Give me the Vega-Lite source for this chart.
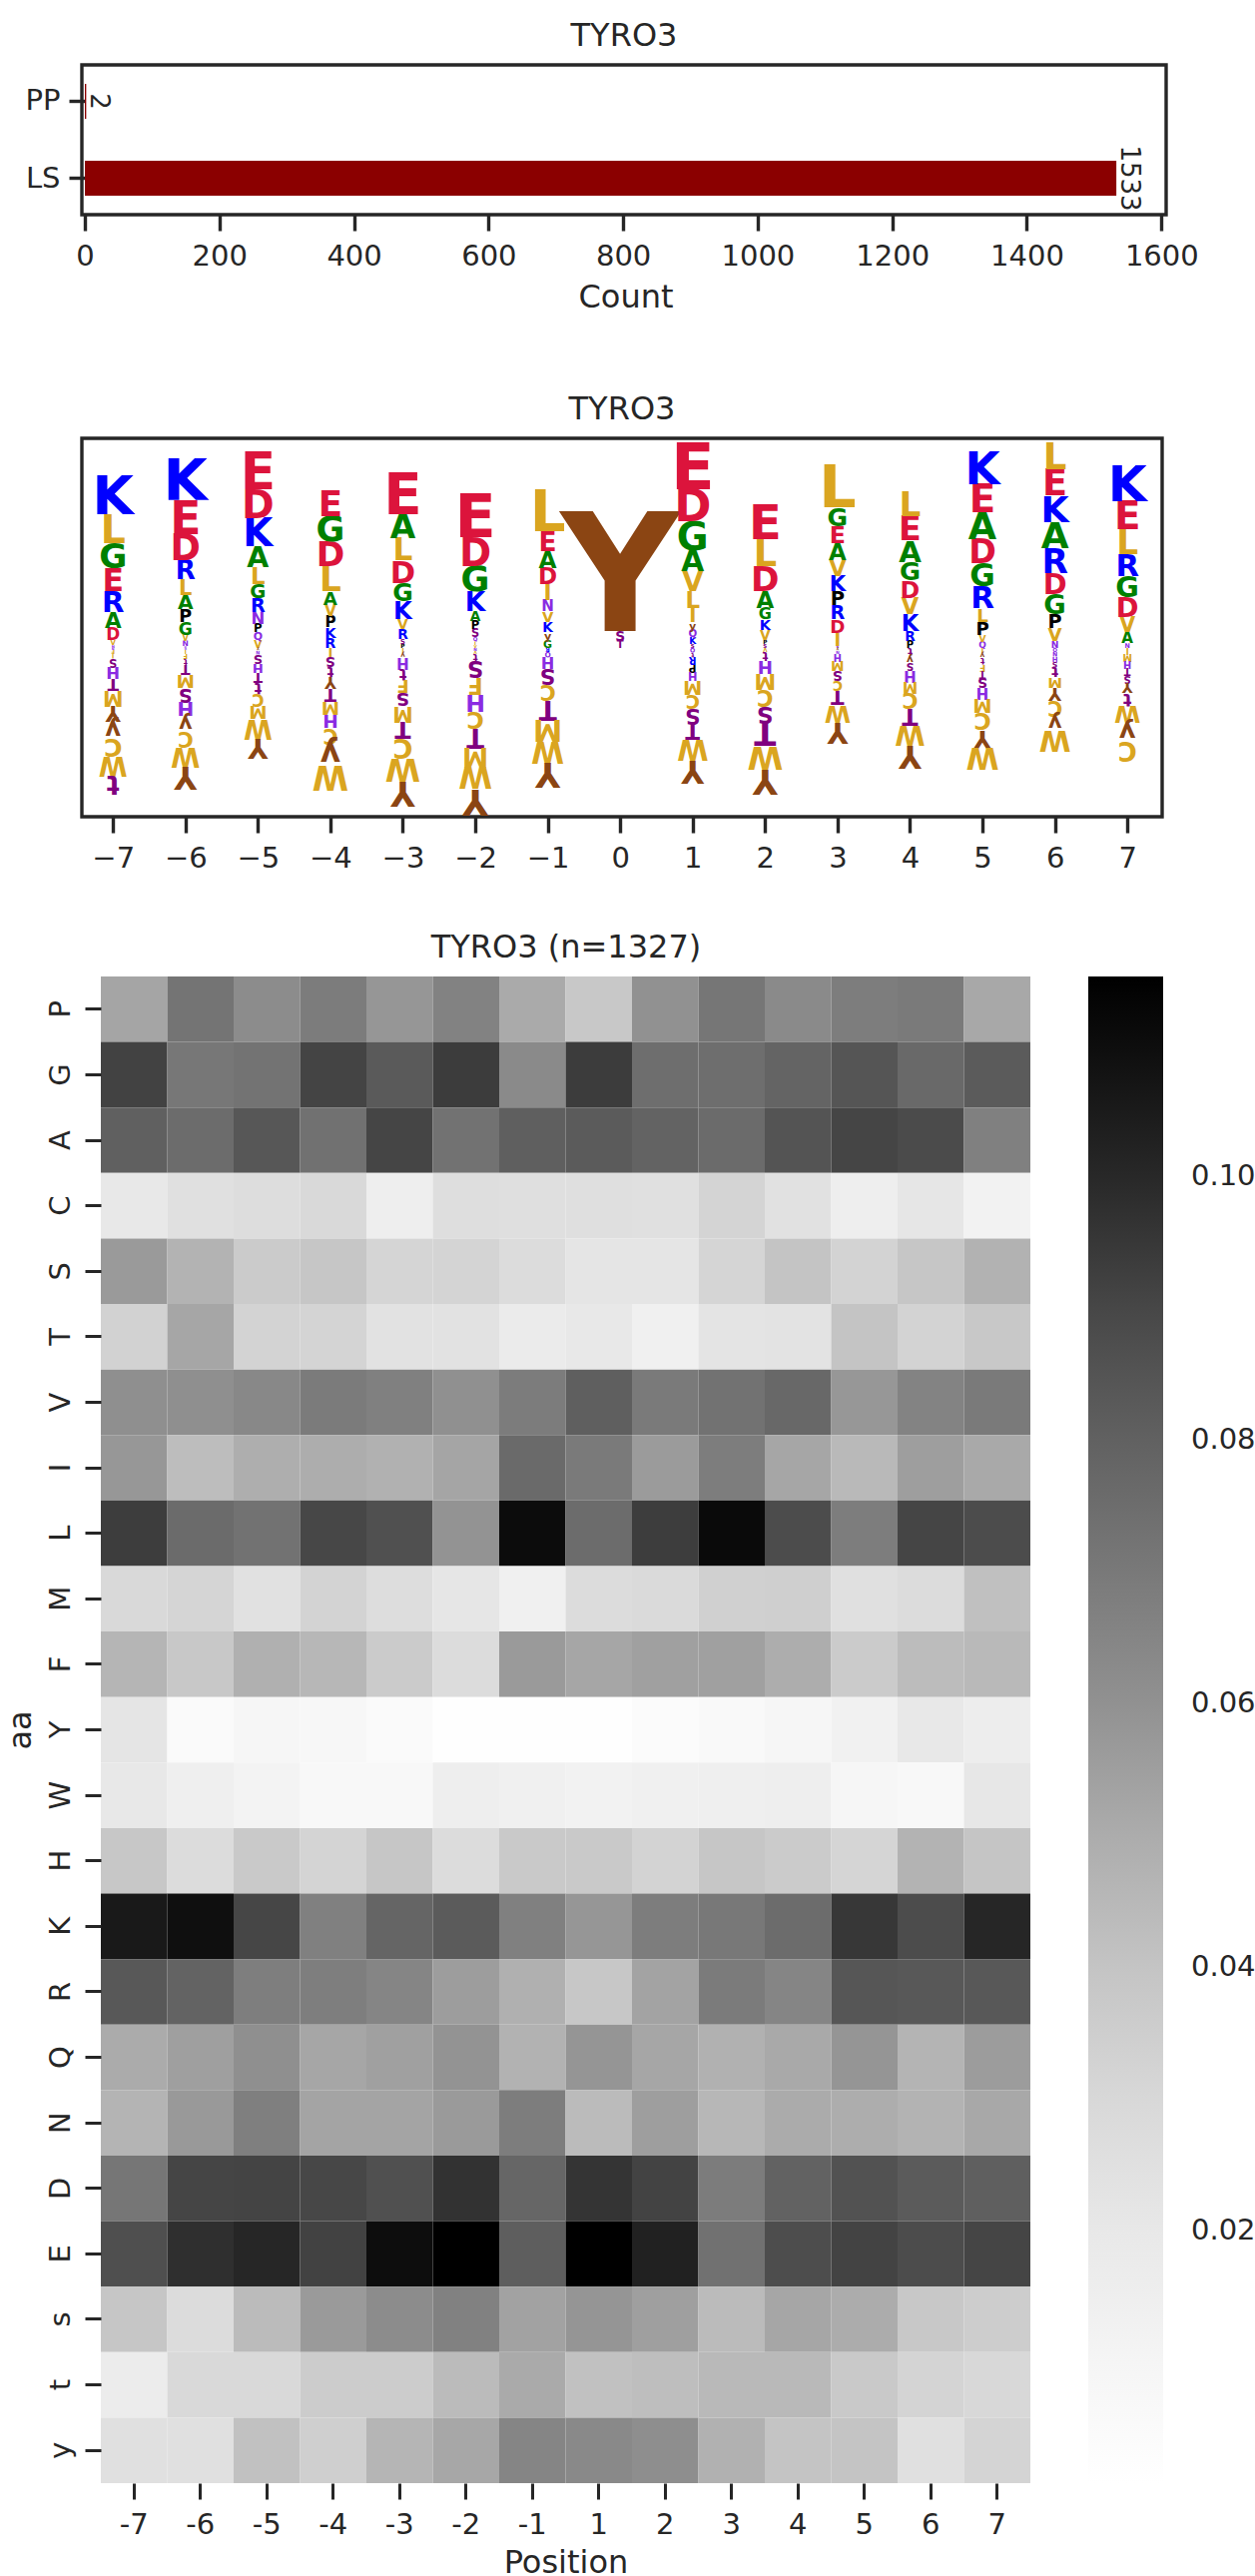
{
  "$schema": "https://vega.github.io/schema/vega-lite/v6.json",
  "padding": {"left": 3, "top": 18, "right": 0, "bottom": 8},
  "spacing": 77,
  "datasets": {
    "counts": [
      {"group": "PP", "count": 2},
      {"group": "LS", "count": 1533}
    ],
    "above": [
      {"pos": -7, "aa": "N", "h": 0.027}, {"pos": -7, "aa": "V", "h": 0.05}, {"pos": -7, "aa": "D", "h": 0.123}, {"pos": -7, "aa": "A", "h": 0.157}, {"pos": -7, "aa": "R", "h": 0.213}, {"pos": -7, "aa": "E", "h": 0.23}, {"pos": -7, "aa": "G", "h": 0.25}, {"pos": -7, "aa": "L", "h": 0.287}, {"pos": -7, "aa": "K", "h": 0.39},
      {"pos": -6, "aa": "Q", "h": 0.02}, {"pos": -6, "aa": "N", "h": 0.055}, {"pos": -6, "aa": "V", "h": 0.06}, {"pos": -6, "aa": "G", "h": 0.125}, {"pos": -6, "aa": "P", "h": 0.128}, {"pos": -6, "aa": "A", "h": 0.147}, {"pos": -6, "aa": "L", "h": 0.153}, {"pos": -6, "aa": "R", "h": 0.19}, {"pos": -6, "aa": "D", "h": 0.267}, {"pos": -6, "aa": "E", "h": 0.333}, {"pos": -6, "aa": "K", "h": 0.417},
      {"pos": -5, "aa": "V", "h": 0.077}, {"pos": -5, "aa": "Q", "h": 0.08}, {"pos": -5, "aa": "P", "h": 0.085}, {"pos": -5, "aa": "N", "h": 0.12}, {"pos": -5, "aa": "R", "h": 0.14}, {"pos": -5, "aa": "G", "h": 0.143}, {"pos": -5, "aa": "L", "h": 0.167}, {"pos": -5, "aa": "A", "h": 0.207}, {"pos": -5, "aa": "K", "h": 0.283}, {"pos": -5, "aa": "D", "h": 0.287}, {"pos": -5, "aa": "E", "h": 0.377},
      {"pos": -4, "aa": "R", "h": 0.105}, {"pos": -4, "aa": "K", "h": 0.107}, {"pos": -4, "aa": "P", "h": 0.11}, {"pos": -4, "aa": "V", "h": 0.112}, {"pos": -4, "aa": "A", "h": 0.133}, {"pos": -4, "aa": "L", "h": 0.25}, {"pos": -4, "aa": "D", "h": 0.251}, {"pos": -4, "aa": "G", "h": 0.256}, {"pos": -4, "aa": "E", "h": 0.26},
      {"pos": -3, "aa": "P", "h": 0.043}, {"pos": -3, "aa": "S", "h": 0.05}, {"pos": -3, "aa": "R", "h": 0.1}, {"pos": -3, "aa": "V", "h": 0.101}, {"pos": -3, "aa": "K", "h": 0.177}, {"pos": -3, "aa": "G", "h": 0.183}, {"pos": -3, "aa": "D", "h": 0.223}, {"pos": -3, "aa": "L", "h": 0.227}, {"pos": -3, "aa": "A", "h": 0.24}, {"pos": -3, "aa": "E", "h": 0.41},
      {"pos": -2, "aa": "V", "h": 0.03}, {"pos": -2, "aa": "I", "h": 0.037}, {"pos": -2, "aa": "Q", "h": 0.04}, {"pos": -2, "aa": "S", "h": 0.083}, {"pos": -2, "aa": "P", "h": 0.084}, {"pos": -2, "aa": "A", "h": 0.1}, {"pos": -2, "aa": "K", "h": 0.193}, {"pos": -2, "aa": "G", "h": 0.257}, {"pos": -2, "aa": "D", "h": 0.283}, {"pos": -2, "aa": "E", "h": 0.44},
      {"pos": -1, "aa": "G", "h": 0.08}, {"pos": -1, "aa": "y", "h": 0.082}, {"pos": -1, "aa": "K", "h": 0.1}, {"pos": -1, "aa": "V", "h": 0.107}, {"pos": -1, "aa": "N", "h": 0.11}, {"pos": -1, "aa": "I", "h": 0.157}, {"pos": -1, "aa": "D", "h": 0.168}, {"pos": -1, "aa": "A", "h": 0.17}, {"pos": -1, "aa": "E", "h": 0.193}, {"pos": -1, "aa": "L", "h": 0.41},
      {"pos": 0, "aa": "T", "h": 0.073}, {"pos": 0, "aa": "S", "h": 0.1}, {"pos": 0, "aa": "Y", "h": 1.9},
      {"pos": 1, "aa": "S", "h": 0.04}, {"pos": 1, "aa": "K", "h": 0.067}, {"pos": 1, "aa": "Q", "h": 0.075}, {"pos": 1, "aa": "y", "h": 0.077}, {"pos": 1, "aa": "I", "h": 0.14}, {"pos": 1, "aa": "L", "h": 0.167}, {"pos": 1, "aa": "V", "h": 0.2}, {"pos": 1, "aa": "A", "h": 0.217}, {"pos": 1, "aa": "G", "h": 0.283}, {"pos": 1, "aa": "D", "h": 0.327}, {"pos": 1, "aa": "E", "h": 0.467},
      {"pos": 2, "aa": "S", "h": 0.04}, {"pos": 2, "aa": "P", "h": 0.042}, {"pos": 2, "aa": "V", "h": 0.1}, {"pos": 2, "aa": "K", "h": 0.105}, {"pos": 2, "aa": "G", "h": 0.117}, {"pos": 2, "aa": "A", "h": 0.167}, {"pos": 2, "aa": "D", "h": 0.25}, {"pos": 2, "aa": "L", "h": 0.267}, {"pos": 2, "aa": "E", "h": 0.35},
      {"pos": 3, "aa": "N", "h": 0.023}, {"pos": 3, "aa": "I", "h": 0.13}, {"pos": 3, "aa": "D", "h": 0.133}, {"pos": 3, "aa": "R", "h": 0.14}, {"pos": 3, "aa": "P", "h": 0.142}, {"pos": 3, "aa": "K", "h": 0.155}, {"pos": 3, "aa": "V", "h": 0.16}, {"pos": 3, "aa": "A", "h": 0.167}, {"pos": 3, "aa": "E", "h": 0.173}, {"pos": 3, "aa": "G", "h": 0.183}, {"pos": 3, "aa": "L", "h": 0.427},
      {"pos": 4, "aa": "P", "h": 0.073}, {"pos": 4, "aa": "R", "h": 0.1}, {"pos": 4, "aa": "K", "h": 0.165}, {"pos": 4, "aa": "V", "h": 0.167}, {"pos": 4, "aa": "D", "h": 0.173}, {"pos": 4, "aa": "G", "h": 0.187}, {"pos": 4, "aa": "A", "h": 0.213}, {"pos": 4, "aa": "E", "h": 0.243}, {"pos": 4, "aa": "L", "h": 0.25},
      {"pos": 5, "aa": "Q", "h": 0.065}, {"pos": 5, "aa": "V", "h": 0.067}, {"pos": 5, "aa": "P", "h": 0.132}, {"pos": 5, "aa": "L", "h": 0.133}, {"pos": 5, "aa": "R", "h": 0.225}, {"pos": 5, "aa": "G", "h": 0.227}, {"pos": 5, "aa": "D", "h": 0.243}, {"pos": 5, "aa": "A", "h": 0.267}, {"pos": 5, "aa": "E", "h": 0.283}, {"pos": 5, "aa": "K", "h": 0.33},
      {"pos": 6, "aa": "N", "h": 0.067}, {"pos": 6, "aa": "V", "h": 0.133}, {"pos": 6, "aa": "P", "h": 0.14}, {"pos": 6, "aa": "G", "h": 0.2}, {"pos": 6, "aa": "D", "h": 0.21}, {"pos": 6, "aa": "R", "h": 0.25}, {"pos": 6, "aa": "A", "h": 0.262}, {"pos": 6, "aa": "K", "h": 0.265}, {"pos": 6, "aa": "E", "h": 0.268}, {"pos": 6, "aa": "L", "h": 0.27},
      {"pos": 7, "aa": "N", "h": 0.047}, {"pos": 7, "aa": "A", "h": 0.11}, {"pos": 7, "aa": "V", "h": 0.15}, {"pos": 7, "aa": "D", "h": 0.2}, {"pos": 7, "aa": "G", "h": 0.21}, {"pos": 7, "aa": "R", "h": 0.223}, {"pos": 7, "aa": "L", "h": 0.25}, {"pos": 7, "aa": "E", "h": 0.283}, {"pos": 7, "aa": "K", "h": 0.367}
    ],
    "below": [
      {"pos": -7, "aa": "N", "h": 0.023}, {"pos": -7, "aa": "F", "h": 0.04}, {"pos": -7, "aa": "I", "h": 0.045}, {"pos": -7, "aa": "S", "h": 0.083}, {"pos": -7, "aa": "H", "h": 0.12}, {"pos": -7, "aa": "T", "h": 0.122}, {"pos": -7, "aa": "M", "h": 0.15}, {"pos": -7, "aa": "Y", "h": 0.152}, {"pos": -7, "aa": "y", "h": 0.175}, {"pos": -7, "aa": "C", "h": 0.183}, {"pos": -7, "aa": "W", "h": 0.19}, {"pos": -7, "aa": "t", "h": 0.195},
      {"pos": -6, "aa": "Q", "h": 0.02}, {"pos": -6, "aa": "I", "h": 0.04}, {"pos": -6, "aa": "F", "h": 0.05}, {"pos": -6, "aa": "t", "h": 0.06}, {"pos": -6, "aa": "T", "h": 0.1}, {"pos": -6, "aa": "M", "h": 0.135}, {"pos": -6, "aa": "S", "h": 0.138}, {"pos": -6, "aa": "H", "h": 0.147}, {"pos": -6, "aa": "y", "h": 0.15}, {"pos": -6, "aa": "C", "h": 0.157}, {"pos": -6, "aa": "W", "h": 0.193}, {"pos": -6, "aa": "Y", "h": 0.227},
      {"pos": -5, "aa": "y", "h": 0.03}, {"pos": -5, "aa": "N", "h": 0.035}, {"pos": -5, "aa": "S", "h": 0.093}, {"pos": -5, "aa": "H", "h": 0.095}, {"pos": -5, "aa": "T", "h": 0.098}, {"pos": -5, "aa": "t", "h": 0.11}, {"pos": -5, "aa": "C", "h": 0.123}, {"pos": -5, "aa": "M", "h": 0.133}, {"pos": -5, "aa": "W", "h": 0.19}, {"pos": -5, "aa": "Y", "h": 0.2},
      {"pos": -4, "aa": "I", "h": 0.09}, {"pos": -4, "aa": "S", "h": 0.1}, {"pos": -4, "aa": "t", "h": 0.101}, {"pos": -4, "aa": "Y", "h": 0.117}, {"pos": -4, "aa": "T", "h": 0.13}, {"pos": -4, "aa": "M", "h": 0.133}, {"pos": -4, "aa": "H", "h": 0.135}, {"pos": -4, "aa": "C", "h": 0.15}, {"pos": -4, "aa": "y", "h": 0.227}, {"pos": -4, "aa": "W", "h": 0.24},
      {"pos": -3, "aa": "I", "h": 0.047}, {"pos": -3, "aa": "y", "h": 0.05}, {"pos": -3, "aa": "H", "h": 0.11}, {"pos": -3, "aa": "t", "h": 0.112}, {"pos": -3, "aa": "F", "h": 0.133}, {"pos": -3, "aa": "S", "h": 0.134}, {"pos": -3, "aa": "M", "h": 0.15}, {"pos": -3, "aa": "T", "h": 0.173}, {"pos": -3, "aa": "C", "h": 0.2}, {"pos": -3, "aa": "W", "h": 0.233}, {"pos": -3, "aa": "Y", "h": 0.243},
      {"pos": -2, "aa": "N", "h": 0.03}, {"pos": -2, "aa": "V", "h": 0.031}, {"pos": -2, "aa": "t", "h": 0.073}, {"pos": -2, "aa": "S", "h": 0.165}, {"pos": -2, "aa": "F", "h": 0.166}, {"pos": -2, "aa": "H", "h": 0.172}, {"pos": -2, "aa": "C", "h": 0.173}, {"pos": -2, "aa": "T", "h": 0.19}, {"pos": -2, "aa": "M", "h": 0.193}, {"pos": -2, "aa": "W", "h": 0.223}, {"pos": -2, "aa": "Y", "h": 0.26},
      {"pos": -1, "aa": "R", "h": 0.04}, {"pos": -1, "aa": "Q", "h": 0.053}, {"pos": -1, "aa": "H", "h": 0.117}, {"pos": -1, "aa": "S", "h": 0.157}, {"pos": -1, "aa": "C", "h": 0.16}, {"pos": -1, "aa": "T", "h": 0.193}, {"pos": -1, "aa": "M", "h": 0.215}, {"pos": -1, "aa": "W", "h": 0.218}, {"pos": -1, "aa": "Y", "h": 0.25},
      {"pos": 1, "aa": "Q", "h": 0.045}, {"pos": 1, "aa": "t", "h": 0.047}, {"pos": 1, "aa": "R", "h": 0.073}, {"pos": 1, "aa": "P", "h": 0.077}, {"pos": 1, "aa": "H", "h": 0.083}, {"pos": 1, "aa": "M", "h": 0.14}, {"pos": 1, "aa": "C", "h": 0.142}, {"pos": 1, "aa": "S", "h": 0.155}, {"pos": 1, "aa": "T", "h": 0.157}, {"pos": 1, "aa": "W", "h": 0.207}, {"pos": 1, "aa": "Y", "h": 0.227},
      {"pos": 2, "aa": "V", "h": 0.04}, {"pos": 2, "aa": "t", "h": 0.087}, {"pos": 2, "aa": "H", "h": 0.133}, {"pos": 2, "aa": "M", "h": 0.16}, {"pos": 2, "aa": "C", "h": 0.165}, {"pos": 2, "aa": "S", "h": 0.168}, {"pos": 2, "aa": "T", "h": 0.235}, {"pos": 2, "aa": "W", "h": 0.236}, {"pos": 2, "aa": "Y", "h": 0.25},
      {"pos": 3, "aa": "y", "h": 0.03}, {"pos": 3, "aa": "N", "h": 0.031}, {"pos": 3, "aa": "H", "h": 0.073}, {"pos": 3, "aa": "M", "h": 0.098}, {"pos": 3, "aa": "S", "h": 0.1}, {"pos": 3, "aa": "C", "h": 0.101}, {"pos": 3, "aa": "T", "h": 0.143}, {"pos": 3, "aa": "W", "h": 0.173}, {"pos": 3, "aa": "Y", "h": 0.207},
      {"pos": 4, "aa": "t", "h": 0.075}, {"pos": 4, "aa": "y", "h": 0.076}, {"pos": 4, "aa": "S", "h": 0.077}, {"pos": 4, "aa": "H", "h": 0.11}, {"pos": 4, "aa": "M", "h": 0.113}, {"pos": 4, "aa": "C", "h": 0.16}, {"pos": 4, "aa": "T", "h": 0.173}, {"pos": 4, "aa": "W", "h": 0.2}, {"pos": 4, "aa": "Y", "h": 0.227},
      {"pos": 5, "aa": "I", "h": 0.05}, {"pos": 5, "aa": "y", "h": 0.052}, {"pos": 5, "aa": "t", "h": 0.065}, {"pos": 5, "aa": "F", "h": 0.067}, {"pos": 5, "aa": "T", "h": 0.07}, {"pos": 5, "aa": "S", "h": 0.1}, {"pos": 5, "aa": "H", "h": 0.11}, {"pos": 5, "aa": "M", "h": 0.14}, {"pos": 5, "aa": "C", "h": 0.173}, {"pos": 5, "aa": "Y", "h": 0.177}, {"pos": 5, "aa": "W", "h": 0.217},
      {"pos": 6, "aa": "Q", "h": 0.04}, {"pos": 6, "aa": "N", "h": 0.045}, {"pos": 6, "aa": "H", "h": 0.05}, {"pos": 6, "aa": "S", "h": 0.055}, {"pos": 6, "aa": "t", "h": 0.105}, {"pos": 6, "aa": "M", "h": 0.107}, {"pos": 6, "aa": "Y", "h": 0.13}, {"pos": 6, "aa": "C", "h": 0.15}, {"pos": 6, "aa": "y", "h": 0.152}, {"pos": 6, "aa": "W", "h": 0.21},
      {"pos": 7, "aa": "I", "h": 0.06}, {"pos": 7, "aa": "M", "h": 0.07}, {"pos": 7, "aa": "H", "h": 0.072}, {"pos": 7, "aa": "T", "h": 0.073}, {"pos": 7, "aa": "S", "h": 0.074}, {"pos": 7, "aa": "Y", "h": 0.107}, {"pos": 7, "aa": "t", "h": 0.127}, {"pos": 7, "aa": "W", "h": 0.173}, {"pos": 7, "aa": "y", "h": 0.187}, {"pos": 7, "aa": "C", "h": 0.19}
    ],
    "freq": [
      {"aa": "P", "pos": -7, "f": 0.0525}, {"aa": "P", "pos": -6, "f": 0.0719}, {"aa": "P", "pos": -5, "f": 0.0621}, {"aa": "P", "pos": -4, "f": 0.0686}, {"aa": "P", "pos": -3, "f": 0.058}, {"aa": "P", "pos": -2, "f": 0.0661}, {"aa": "P", "pos": -1, "f": 0.0507}, {"aa": "P", "pos": 1, "f": 0.0381}, {"aa": "P", "pos": 2, "f": 0.06}, {"aa": "P", "pos": 3, "f": 0.0711}, {"aa": "P", "pos": 4, "f": 0.063}, {"aa": "P", "pos": 5, "f": 0.0682}, {"aa": "P", "pos": 6, "f": 0.0694}, {"aa": "P", "pos": 7, "f": 0.0514},
      {"aa": "G", "pos": -7, "f": 0.0917}, {"aa": "G", "pos": -6, "f": 0.0706}, {"aa": "G", "pos": -5, "f": 0.0723}, {"aa": "G", "pos": -4, "f": 0.0911}, {"aa": "G", "pos": -3, "f": 0.0832}, {"aa": "G", "pos": -2, "f": 0.0936}, {"aa": "G", "pos": -1, "f": 0.063}, {"aa": "G", "pos": 1, "f": 0.0936}, {"aa": "G", "pos": 2, "f": 0.0745}, {"aa": "G", "pos": 3, "f": 0.0745}, {"aa": "G", "pos": 4, "f": 0.0788}, {"aa": "G", "pos": 5, "f": 0.0853}, {"aa": "G", "pos": 6, "f": 0.0766}, {"aa": "G", "pos": 7, "f": 0.0825},
      {"aa": "A", "pos": -7, "f": 0.0805}, {"aa": "A", "pos": -6, "f": 0.0753}, {"aa": "A", "pos": -5, "f": 0.0845}, {"aa": "A", "pos": -4, "f": 0.0732}, {"aa": "A", "pos": -3, "f": 0.0907}, {"aa": "A", "pos": -2, "f": 0.0727}, {"aa": "A", "pos": -1, "f": 0.081}, {"aa": "A", "pos": 1, "f": 0.0828}, {"aa": "A", "pos": 2, "f": 0.0792}, {"aa": "A", "pos": 3, "f": 0.0757}, {"aa": "A", "pos": 4, "f": 0.0858}, {"aa": "A", "pos": 5, "f": 0.0907}, {"aa": "A", "pos": 6, "f": 0.0888}, {"aa": "A", "pos": 7, "f": 0.0669},
      {"aa": "C", "pos": -7, "f": 0.0201}, {"aa": "C", "pos": -6, "f": 0.0252}, {"aa": "C", "pos": -5, "f": 0.027}, {"aa": "C", "pos": -4, "f": 0.0294}, {"aa": "C", "pos": -3, "f": 0.0163}, {"aa": "C", "pos": -2, "f": 0.0264}, {"aa": "C", "pos": -1, "f": 0.0258}, {"aa": "C", "pos": 1, "f": 0.0258}, {"aa": "C", "pos": 2, "f": 0.0252}, {"aa": "C", "pos": 3, "f": 0.0319}, {"aa": "C", "pos": 4, "f": 0.0245}, {"aa": "C", "pos": 5, "f": 0.0163}, {"aa": "C", "pos": 6, "f": 0.0213}, {"aa": "C", "pos": 7, "f": 0.013},
      {"aa": "S", "pos": -7, "f": 0.0564}, {"aa": "S", "pos": -6, "f": 0.0474}, {"aa": "S", "pos": -5, "f": 0.0366}, {"aa": "S", "pos": -4, "f": 0.0393}, {"aa": "S", "pos": -3, "f": 0.0312}, {"aa": "S", "pos": -2, "f": 0.0317}, {"aa": "S", "pos": -1, "f": 0.0276}, {"aa": "S", "pos": 1, "f": 0.0219}, {"aa": "S", "pos": 2, "f": 0.0219}, {"aa": "S", "pos": 3, "f": 0.0312}, {"aa": "S", "pos": 4, "f": 0.0403}, {"aa": "S", "pos": 5, "f": 0.0326}, {"aa": "S", "pos": 6, "f": 0.0389}, {"aa": "S", "pos": 7, "f": 0.0477},
      {"aa": "T", "pos": -7, "f": 0.033}, {"aa": "T", "pos": -6, "f": 0.0521}, {"aa": "T", "pos": -5, "f": 0.0326}, {"aa": "T", "pos": -4, "f": 0.0317}, {"aa": "T", "pos": -3, "f": 0.0239}, {"aa": "T", "pos": -2, "f": 0.0239}, {"aa": "T", "pos": -1, "f": 0.0182}, {"aa": "T", "pos": 1, "f": 0.0201}, {"aa": "T", "pos": 2, "f": 0.0151}, {"aa": "T", "pos": 3, "f": 0.0226}, {"aa": "T", "pos": 4, "f": 0.0232}, {"aa": "T", "pos": 5, "f": 0.0403}, {"aa": "T", "pos": 6, "f": 0.0326}, {"aa": "T", "pos": 7, "f": 0.0381},
      {"aa": "V", "pos": -7, "f": 0.0609}, {"aa": "V", "pos": -6, "f": 0.0609}, {"aa": "V", "pos": -5, "f": 0.0637}, {"aa": "V", "pos": -4, "f": 0.069}, {"aa": "V", "pos": -3, "f": 0.0669}, {"aa": "V", "pos": -2, "f": 0.0605}, {"aa": "V", "pos": -1, "f": 0.0686}, {"aa": "V", "pos": 1, "f": 0.081}, {"aa": "V", "pos": 2, "f": 0.0694}, {"aa": "V", "pos": 3, "f": 0.0727}, {"aa": "V", "pos": 4, "f": 0.077}, {"aa": "V", "pos": 5, "f": 0.0576}, {"aa": "V", "pos": 6, "f": 0.0657}, {"aa": "V", "pos": 7, "f": 0.0694},
      {"aa": "I", "pos": -7, "f": 0.0576}, {"aa": "I", "pos": -6, "f": 0.0437}, {"aa": "I", "pos": -5, "f": 0.0492}, {"aa": "I", "pos": -4, "f": 0.0496}, {"aa": "I", "pos": -3, "f": 0.0481}, {"aa": "I", "pos": -2, "f": 0.0525}, {"aa": "I", "pos": -1, "f": 0.0762}, {"aa": "I", "pos": 1, "f": 0.0694}, {"aa": "I", "pos": 2, "f": 0.0561}, {"aa": "I", "pos": 3, "f": 0.0682}, {"aa": "I", "pos": 4, "f": 0.0521}, {"aa": "I", "pos": 5, "f": 0.045}, {"aa": "I", "pos": 6, "f": 0.055}, {"aa": "I", "pos": 7, "f": 0.051},
      {"aa": "L", "pos": -7, "f": 0.0933}, {"aa": "L", "pos": -6, "f": 0.0757}, {"aa": "L", "pos": -5, "f": 0.0727}, {"aa": "L", "pos": -4, "f": 0.0901}, {"aa": "L", "pos": -3, "f": 0.0871}, {"aa": "L", "pos": -2, "f": 0.0592}, {"aa": "L", "pos": -1, "f": 0.1105}, {"aa": "L", "pos": 1, "f": 0.0753}, {"aa": "L", "pos": 2, "f": 0.0933}, {"aa": "L", "pos": 3, "f": 0.1113}, {"aa": "L", "pos": 4, "f": 0.0886}, {"aa": "L", "pos": 5, "f": 0.0682}, {"aa": "L", "pos": 6, "f": 0.0907}, {"aa": "L", "pos": 7, "f": 0.0886},
      {"aa": "M", "pos": -7, "f": 0.0294}, {"aa": "M", "pos": -6, "f": 0.0312}, {"aa": "M", "pos": -5, "f": 0.0245}, {"aa": "M", "pos": -4, "f": 0.0326}, {"aa": "M", "pos": -3, "f": 0.027}, {"aa": "M", "pos": -2, "f": 0.0213}, {"aa": "M", "pos": -1, "f": 0.0151}, {"aa": "M", "pos": 1, "f": 0.0276}, {"aa": "M", "pos": 2, "f": 0.0288}, {"aa": "M", "pos": 3, "f": 0.034}, {"aa": "M", "pos": 4, "f": 0.0345}, {"aa": "M", "pos": 5, "f": 0.0252}, {"aa": "M", "pos": 6, "f": 0.0276}, {"aa": "M", "pos": 7, "f": 0.0423},
      {"aa": "F", "pos": -7, "f": 0.0467}, {"aa": "F", "pos": -6, "f": 0.0381}, {"aa": "F", "pos": -5, "f": 0.0485}, {"aa": "F", "pos": -4, "f": 0.0459}, {"aa": "F", "pos": -3, "f": 0.0366}, {"aa": "F", "pos": -2, "f": 0.0276}, {"aa": "F", "pos": -1, "f": 0.0564}, {"aa": "F", "pos": 1, "f": 0.0521}, {"aa": "F", "pos": 2, "f": 0.0543}, {"aa": "F", "pos": 3, "f": 0.0543}, {"aa": "F", "pos": 4, "f": 0.0496}, {"aa": "F", "pos": 5, "f": 0.0366}, {"aa": "F", "pos": 6, "f": 0.0441}, {"aa": "F", "pos": 7, "f": 0.045},
      {"aa": "Y", "pos": -7, "f": 0.0219}, {"aa": "Y", "pos": -6, "f": 0.0056}, {"aa": "Y", "pos": -5, "f": 0.0094}, {"aa": "Y", "pos": -4, "f": 0.0084}, {"aa": "Y", "pos": -3, "f": 0.0056}, {"aa": "Y", "pos": -2, "f": 0.0018}, {"aa": "Y", "pos": -1, "f": 0.0018}, {"aa": "Y", "pos": 1, "f": 0.0018}, {"aa": "Y", "pos": 2, "f": 0.0046}, {"aa": "Y", "pos": 3, "f": 0.0065}, {"aa": "Y", "pos": 4, "f": 0.0094}, {"aa": "Y", "pos": 5, "f": 0.0141}, {"aa": "Y", "pos": 6, "f": 0.0201}, {"aa": "Y", "pos": 7, "f": 0.017},
      {"aa": "W", "pos": -7, "f": 0.0201}, {"aa": "W", "pos": -6, "f": 0.0157}, {"aa": "W", "pos": -5, "f": 0.0122}, {"aa": "W", "pos": -4, "f": 0.0075}, {"aa": "W", "pos": -3, "f": 0.0075}, {"aa": "W", "pos": -2, "f": 0.0163}, {"aa": "W", "pos": -1, "f": 0.0151}, {"aa": "W", "pos": 1, "f": 0.013}, {"aa": "W", "pos": 2, "f": 0.0151}, {"aa": "W", "pos": 3, "f": 0.0157}, {"aa": "W", "pos": 4, "f": 0.0163}, {"aa": "W", "pos": 5, "f": 0.0094}, {"aa": "W", "pos": 6, "f": 0.0075}, {"aa": "W", "pos": 7, "f": 0.0207},
      {"aa": "H", "pos": -7, "f": 0.0385}, {"aa": "H", "pos": -6, "f": 0.0276}, {"aa": "H", "pos": -5, "f": 0.0376}, {"aa": "H", "pos": -4, "f": 0.0317}, {"aa": "H", "pos": -3, "f": 0.0389}, {"aa": "H", "pos": -2, "f": 0.0276}, {"aa": "H", "pos": -1, "f": 0.0376}, {"aa": "H", "pos": 1, "f": 0.0376}, {"aa": "H", "pos": 2, "f": 0.0326}, {"aa": "H", "pos": 3, "f": 0.0389}, {"aa": "H", "pos": 4, "f": 0.0366}, {"aa": "H", "pos": 5, "f": 0.0312}, {"aa": "H", "pos": 6, "f": 0.0474}, {"aa": "H", "pos": 7, "f": 0.0398},
      {"aa": "K", "pos": -7, "f": 0.1054}, {"aa": "K", "pos": -6, "f": 0.1093}, {"aa": "K", "pos": -5, "f": 0.0904}, {"aa": "K", "pos": -4, "f": 0.0669}, {"aa": "K", "pos": -3, "f": 0.0784}, {"aa": "K", "pos": -2, "f": 0.0828}, {"aa": "K", "pos": -1, "f": 0.0669}, {"aa": "K", "pos": 1, "f": 0.058}, {"aa": "K", "pos": 2, "f": 0.0682}, {"aa": "K", "pos": 3, "f": 0.0702}, {"aa": "K", "pos": 4, "f": 0.0753}, {"aa": "K", "pos": 5, "f": 0.0952}, {"aa": "K", "pos": 6, "f": 0.0886}, {"aa": "K", "pos": 7, "f": 0.1006},
      {"aa": "R", "pos": -7, "f": 0.0841}, {"aa": "R", "pos": -6, "f": 0.0792}, {"aa": "R", "pos": -5, "f": 0.0678}, {"aa": "R", "pos": -4, "f": 0.0678}, {"aa": "R", "pos": -3, "f": 0.0649}, {"aa": "R", "pos": -2, "f": 0.0554}, {"aa": "R", "pos": -1, "f": 0.0485}, {"aa": "R", "pos": 1, "f": 0.0385}, {"aa": "R", "pos": 2, "f": 0.0532}, {"aa": "R", "pos": 3, "f": 0.069}, {"aa": "R", "pos": 4, "f": 0.0649}, {"aa": "R", "pos": 5, "f": 0.085}, {"aa": "R", "pos": 6, "f": 0.0841}, {"aa": "R", "pos": 7, "f": 0.0841},
      {"aa": "Q", "pos": -7, "f": 0.0503}, {"aa": "Q", "pos": -6, "f": 0.0547}, {"aa": "Q", "pos": -5, "f": 0.0609}, {"aa": "Q", "pos": -4, "f": 0.0521}, {"aa": "Q", "pos": -3, "f": 0.0543}, {"aa": "Q", "pos": -2, "f": 0.0592}, {"aa": "Q", "pos": -1, "f": 0.0477}, {"aa": "Q", "pos": 1, "f": 0.0584}, {"aa": "Q", "pos": 2, "f": 0.0521}, {"aa": "Q", "pos": 3, "f": 0.0481}, {"aa": "Q", "pos": 4, "f": 0.051}, {"aa": "Q", "pos": 5, "f": 0.0584}, {"aa": "Q", "pos": 6, "f": 0.047}, {"aa": "Q", "pos": 7, "f": 0.0558},
      {"aa": "N", "pos": -7, "f": 0.047}, {"aa": "N", "pos": -6, "f": 0.0568}, {"aa": "N", "pos": -5, "f": 0.0673}, {"aa": "N", "pos": -4, "f": 0.0528}, {"aa": "N", "pos": -3, "f": 0.0528}, {"aa": "N", "pos": -2, "f": 0.0564}, {"aa": "N", "pos": -1, "f": 0.0682}, {"aa": "N", "pos": 1, "f": 0.0446}, {"aa": "N", "pos": 2, "f": 0.055}, {"aa": "N", "pos": 3, "f": 0.0459}, {"aa": "N", "pos": 4, "f": 0.0503}, {"aa": "N", "pos": 5, "f": 0.0496}, {"aa": "N", "pos": 6, "f": 0.0474}, {"aa": "N", "pos": 7, "f": 0.0514},
      {"aa": "D", "pos": -7, "f": 0.0711}, {"aa": "D", "pos": -6, "f": 0.0907}, {"aa": "D", "pos": -5, "f": 0.0911}, {"aa": "D", "pos": -4, "f": 0.0901}, {"aa": "D", "pos": -3, "f": 0.0871}, {"aa": "D", "pos": -2, "f": 0.0968}, {"aa": "D", "pos": -1, "f": 0.0779}, {"aa": "D", "pos": 1, "f": 0.0962}, {"aa": "D", "pos": 2, "f": 0.0914}, {"aa": "D", "pos": 3, "f": 0.0686}, {"aa": "D", "pos": 4, "f": 0.0797}, {"aa": "D", "pos": 5, "f": 0.0866}, {"aa": "D", "pos": 6, "f": 0.0825}, {"aa": "D", "pos": 7, "f": 0.081},
      {"aa": "E", "pos": -7, "f": 0.0874}, {"aa": "E", "pos": -6, "f": 0.0977}, {"aa": "E", "pos": -5, "f": 0.1006}, {"aa": "E", "pos": -4, "f": 0.0917}, {"aa": "E", "pos": -3, "f": 0.1101}, {"aa": "E", "pos": -2, "f": 0.1152}, {"aa": "E", "pos": -1, "f": 0.0815}, {"aa": "E", "pos": 1, "f": 0.1152}, {"aa": "E", "pos": 2, "f": 0.1023}, {"aa": "E", "pos": 3, "f": 0.0732}, {"aa": "E", "pos": 4, "f": 0.0883}, {"aa": "E", "pos": 5, "f": 0.0914}, {"aa": "E", "pos": 6, "f": 0.0886}, {"aa": "E", "pos": 7, "f": 0.0907},
      {"aa": "s", "pos": -7, "f": 0.0393}, {"aa": "s", "pos": -6, "f": 0.0276}, {"aa": "s", "pos": -5, "f": 0.0446}, {"aa": "s", "pos": -4, "f": 0.0564}, {"aa": "s", "pos": -3, "f": 0.0621}, {"aa": "s", "pos": -2, "f": 0.0665}, {"aa": "s", "pos": -1, "f": 0.0536}, {"aa": "s", "pos": 1, "f": 0.0584}, {"aa": "s", "pos": 2, "f": 0.0547}, {"aa": "s", "pos": 3, "f": 0.0443}, {"aa": "s", "pos": 4, "f": 0.0521}, {"aa": "s", "pos": 5, "f": 0.0499}, {"aa": "s", "pos": 6, "f": 0.0381}, {"aa": "s", "pos": 7, "f": 0.0357},
      {"aa": "t", "pos": -7, "f": 0.0176}, {"aa": "t", "pos": -6, "f": 0.0294}, {"aa": "t", "pos": -5, "f": 0.0294}, {"aa": "t", "pos": -4, "f": 0.0361}, {"aa": "t", "pos": -3, "f": 0.0361}, {"aa": "t", "pos": -2, "f": 0.0446}, {"aa": "t", "pos": -1, "f": 0.0507}, {"aa": "t", "pos": 1, "f": 0.0418}, {"aa": "t", "pos": 2, "f": 0.0433}, {"aa": "t", "pos": 3, "f": 0.045}, {"aa": "t", "pos": 4, "f": 0.045}, {"aa": "t", "pos": 5, "f": 0.0376}, {"aa": "t", "pos": 6, "f": 0.0321}, {"aa": "t", "pos": 7, "f": 0.03},
      {"aa": "y", "pos": -7, "f": 0.0252}, {"aa": "y", "pos": -6, "f": 0.0252}, {"aa": "y", "pos": -5, "f": 0.0418}, {"aa": "y", "pos": -4, "f": 0.0345}, {"aa": "y", "pos": -3, "f": 0.0467}, {"aa": "y", "pos": -2, "f": 0.0517}, {"aa": "y", "pos": -1, "f": 0.0649}, {"aa": "y", "pos": 1, "f": 0.0633}, {"aa": "y", "pos": 2, "f": 0.0613}, {"aa": "y", "pos": 3, "f": 0.0481}, {"aa": "y", "pos": 4, "f": 0.0403}, {"aa": "y", "pos": 5, "f": 0.0403}, {"aa": "y", "pos": 6, "f": 0.0252}, {"aa": "y", "pos": 7, "f": 0.0321}
    ]
  },
  "vconcat": [
    {
      "title": "TYRO3",
      "width": 1086,
      "height": 150,
      "data": {"name": "counts"},
      "encoding": {
        "x": {
          "field": "count",
          "type": "quantitative",
          "scale": {"domain": [0, 1607], "range": [3, 1086], "nice": false},
          "axis": {"title": "Count", "values": [0, 200, 400, 600, 800, 1000, 1200, 1400, 1600], "format": "d", "labelFlush": false, "titleY": 92, "titleBaseline": "alphabetic"}
        },
        "y": {
          "field": "group",
          "type": "nominal",
          "sort": ["PP", "LS"],
          "scale": {"paddingInner": 0.545, "paddingOuter": 0.246},
          "axis": {"title": null, "labelPadding": 9, "offset": -3}
        }
      },
      "layer": [
        {"mark": {"type": "bar", "color": "#8b0000"}},
        {
          "mark": {"type": "text", "angle": 90, "align": "center", "baseline": "bottom", "fontSize": 26, "color": "#262626"},
          "encoding": {"text": {"field": "count", "type": "quantitative", "format": "d"}}
        }
      ]
    },
    {
      "spacing": 57,
      "vconcat": [
        {
          "title": "TYRO3",
          "width": 1082,
          "height": 379,
          "encoding": {
            "x": {
              "field": "pos",
              "type": "quantitative",
              "scale": {"domain": [-7.43, 7.48], "nice": false, "zero": false},
              "axis": {"title": null, "values": [-7, -6, -5, -4, -3, -2, -1, 0, 1, 2, 3, 4, 5, 6, 7], "format": "d", "labelFlush": false}
            },
            "text": {"field": "aa", "type": "nominal"},
            "color": {
              "field": "aa",
              "type": "nominal",
              "scale": {
                "domain": ["K", "R", "E", "D", "G", "A", "L", "V", "I", "M", "F", "C", "W", "S", "T", "s", "t", "N", "Q", "H", "P", "Y", "y"],
                "range": ["#0000ff", "#0000ff", "#dc143c", "#dc143c", "#008000", "#008000", "#daa520", "#daa520", "#daa520", "#daa520", "#daa520", "#daa520", "#daa520", "#800080", "#800080", "#800080", "#800080", "#8a2be2", "#8a2be2", "#8a2be2", "#000000", "#8b4513", "#8b4513"]
              },
              "legend": null
            },
            "size": {
              "field": "h",
              "type": "quantitative",
              "scale": {"domain": [0, 1.2], "range": [0, 164.6], "clamp": true},
              "legend": null
            }
          },
          "layer": [
            {
              "data": {"name": "above"},
              "transform": [{"stack": "h", "groupby": ["pos"], "sort": [{"field": "h", "order": "ascending"}], "as": ["y0", "y1"]}],
              "mark": {"type": "text", "fontWeight": "bold", "align": "center", "baseline": "alphabetic"},
              "encoding": {
                "y": {"field": "y0", "type": "quantitative", "scale": {"domain": [-1.69, 2.1], "nice": false, "zero": false}, "axis": null}
              }
            },
            {
              "data": {"name": "below"},
              "transform": [{"stack": "h", "groupby": ["pos"], "sort": [{"field": "h", "order": "ascending"}], "as": ["y0", "y1"]}],
              "mark": {"type": "text", "fontWeight": "bold", "align": "center", "baseline": "alphabetic", "angle": 180},
              "encoding": {
                "y": {"field": "y0", "type": "quantitative", "scale": {"domain": [-2.1, 1.69], "reverse": true, "nice": false, "zero": false}, "axis": null}
              }
            }
          ],
          "resolve": {"scale": {"y": "independent"}}
        },
        {
          "title": {"text": "TYRO3 (n=1327)", "dx": 10},
          "width": 950,
          "height": 1509,
          "data": {"name": "freq"},
          "view": {"stroke": null},
          "mark": "rect",
          "encoding": {
            "x": {
              "field": "pos",
              "type": "ordinal",
              "sort": [-7, -6, -5, -4, -3, -2, -1, 1, 2, 3, 4, 5, 6, 7],
              "scale": {"range": [19, 950], "paddingInner": 0, "paddingOuter": 0},
              "axis": {"title": "Position", "labelAngle": 0, "tickWidth": 3, "titleY": 89, "titleBaseline": "alphabetic"}
            },
            "y": {
              "field": "aa",
              "type": "nominal",
              "sort": ["P", "G", "A", "C", "S", "T", "V", "I", "L", "M", "F", "Y", "W", "H", "K", "R", "Q", "N", "D", "E", "s", "t", "y"],
              "scale": {"paddingInner": 0, "paddingOuter": 0},
              "axis": {"title": "aa", "labelAngle": 270, "labelAlign": "center", "labelBaseline": "bottom", "labelPadding": 10, "titlePadding": 9, "offset": -19, "tickWidth": 3}
            },
            "color": {
              "field": "f",
              "type": "quantitative",
              "scale": {
                "domain": [0.0008, 0.0151, 0.0294, 0.0437, 0.058, 0.0723, 0.0866, 0.1009, 0.1152],
                "range": ["#ffffff", "#f0f0f0", "#d9d9d9", "#bdbdbd", "#969696", "#737373", "#525252", "#252525", "#000000"],
                "interpolate": "rgb"
              },
              "legend": {
                "title": null,
                "values": [0.02, 0.04, 0.06, 0.08, 0.1],
                "format": ".2f",
                "gradientLength": 1509,
                "gradientThickness": 75,
                "gradientStrokeWidth": 0,
                "labelFontSize": 29,
                "labelColor": "#262626",
                "labelOffset": 28,
                "offset": 58,
                "padding": 0
              }
            }
          }
        }
      ]
    }
  ],
  "config": {
    "font": "DejaVu Sans",
    "view": {"stroke": "#262626", "strokeWidth": 3.4},
    "title": {"fontSize": 32, "fontWeight": "normal", "color": "#262626", "offset": 12, "baseline": "bottom"},
    "axis": {
      "labelFontSize": 29,
      "labelColor": "#262626",
      "titleFontSize": 32,
      "titleFontWeight": "normal",
      "titleColor": "#262626",
      "tickSize": 16,
      "tickWidth": 3.4,
      "tickColor": "#262626",
      "domain": false,
      "grid": false,
      "labelPadding": 11,
      "titlePadding": 10
    }
  }
}
